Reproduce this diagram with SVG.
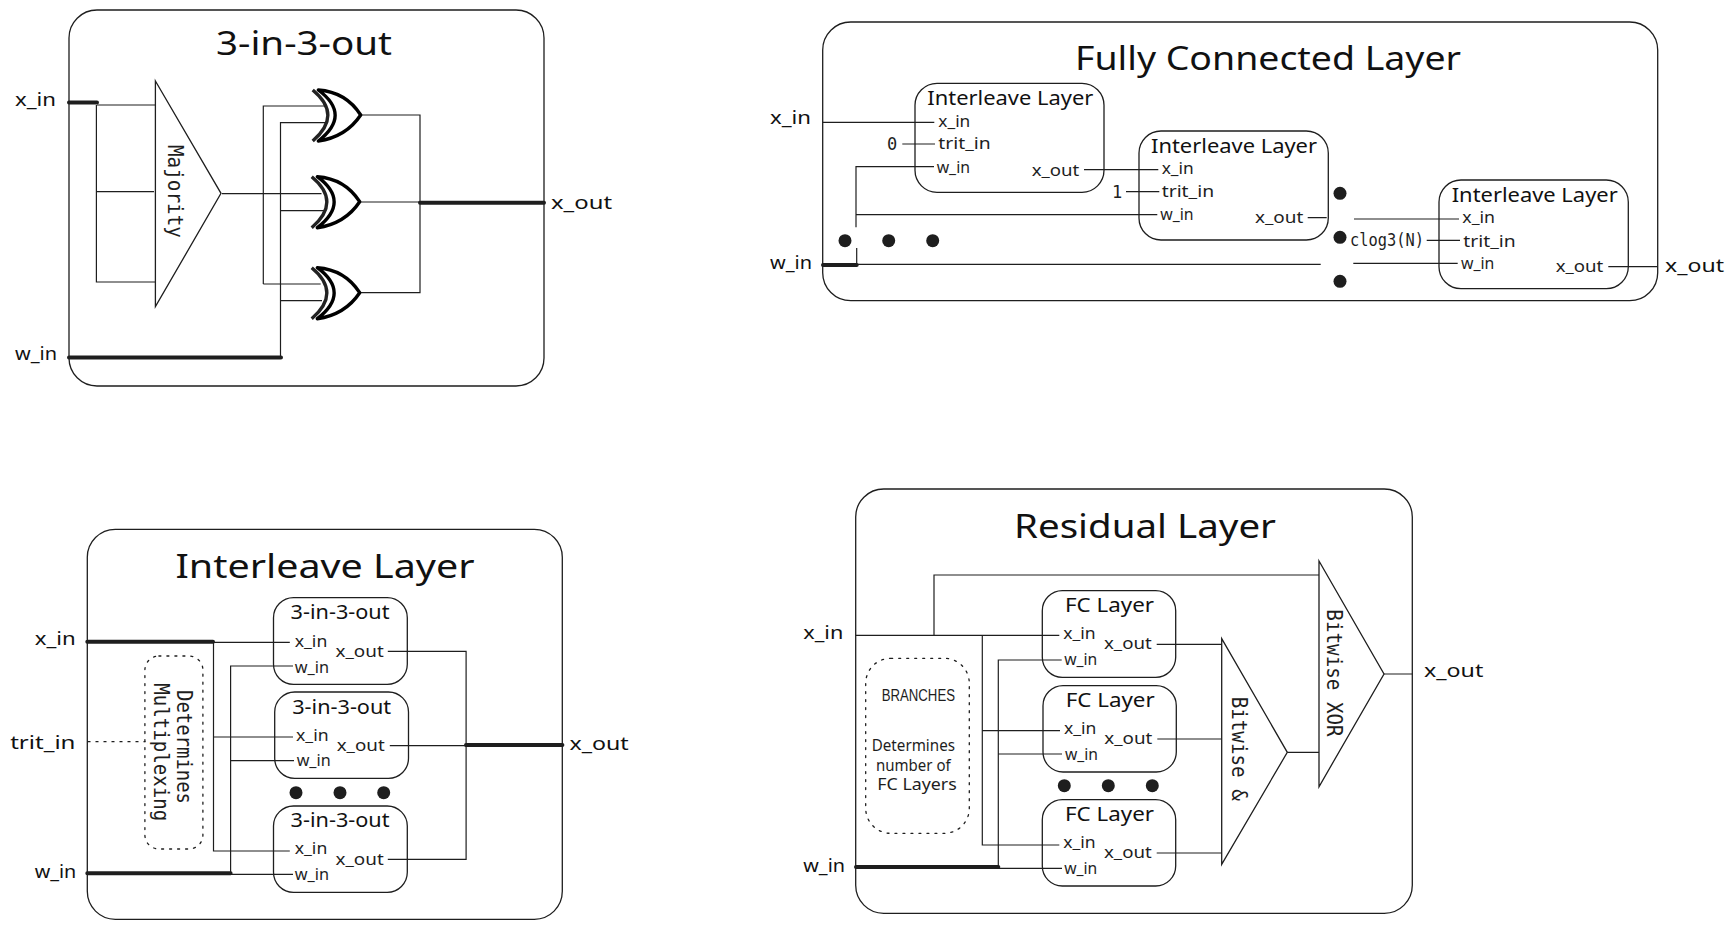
<svg xmlns="http://www.w3.org/2000/svg" width="1735" height="929" viewBox="0 0 1735 929">
<style>
.p{fill:none;stroke:#1e1e1e;stroke-width:1.3}
.n{fill:none;stroke:#1e1e1e;stroke-width:1.3}
.d{fill:none;stroke:#1e1e1e;stroke-width:1.3;stroke-dasharray:2 6;stroke-linecap:round}
.l{fill:none;stroke:#1e1e1e;stroke-width:1.2}
.t{fill:none;stroke:#1e1e1e;stroke-width:4;stroke-linecap:round}
.g{fill:none;stroke:#000;stroke-width:3.4;stroke-linejoin:round}
.b{fill:none;stroke:#222;stroke-width:3.4}
.dot{fill:#1e1e1e}
text{fill:#111;font-family:"Noto Sans","Liberation Sans",sans-serif;font-size:16px}
.big{font-size:33px}
.mid{font-size:19px}
.lab{font-size:18px}
.m{font-family:"DejaVu Sans Mono","Liberation Mono",monospace;font-size:21px;fill:#1e1e1e}
.m2{font-family:"DejaVu Sans Mono","Liberation Mono",monospace;font-size:17px;fill:#1e1e1e}
.s{font-size:16px;fill:#1e1e1e;transform:translate(0,1px)}
.note{font-size:16px;fill:#1e1e1e}
</style>
<defs>
<g id="xor">
<path class="b" d="M312.7,90Q343,115 312.7,141"/>
<path class="g" d="M318.3,90Q346,92 360.7,115Q346,137 318.3,141Q352,115 318.3,90Z"/>
</g>
</defs>

<g id="panel-3in3out">
<rect class="p" x="69" y="10" width="475" height="376" rx="28"/>
<text class="big" x="216" y="55" textLength="176" lengthAdjust="spacingAndGlyphs">3-in-3-out</text>
<text class="lab" x="15" y="106" textLength="41" lengthAdjust="spacingAndGlyphs">x_in</text>
<text class="lab" x="15" y="360" textLength="42" lengthAdjust="spacingAndGlyphs">w_in</text>
<text class="lab" x="551" y="209" textLength="61" lengthAdjust="spacingAndGlyphs">x_out</text>
</g>
<g id="connectors-3in3out">
<path class="t" d="M69,102.5H97M69,357.5H281M420,202.7H544"/>
<path class="l" d="M97,105H155.4M96.4,105V282H155.4M96.4,191.7H154M222,193.7H321.5M263.3,284V106H325M263.3,284H320.7M280.5,357V122.7H325M280.5,210.7H325M280.5,300.7H322M361,115H420V292.7H360M360,202H420"/>
</g>
<g id="majority">
<path class="n" d="M155.4,81L221,193.3L155.4,306.7Z"/>
<text class="m" transform="translate(167.5,145) rotate(90)" textLength="93" lengthAdjust="spacingAndGlyphs">Majority</text>
</g>
<g id="xor-1"><use href="#xor"/></g>
<g id="xor-2"><use href="#xor" x="-1" y="86.7"/></g>
<g id="xor-3"><use href="#xor" x="-1" y="177.7"/></g>

<g id="panel-fc">
<rect class="p" x="822.7" y="22" width="835" height="278.7" rx="28"/>
<text class="big" x="1075" y="70" textLength="386" lengthAdjust="spacingAndGlyphs">Fully Connected Layer</text>
<text class="lab" x="770" y="124" textLength="41" lengthAdjust="spacingAndGlyphs">x_in</text>
<text class="lab" x="770" y="269" textLength="42" lengthAdjust="spacingAndGlyphs">w_in</text>
<text class="lab" x="1665" y="271.7" textLength="59" lengthAdjust="spacingAndGlyphs">x_out</text>
<text class="m2" x="887" y="149.5">0</text>
<text class="m2" x="1112" y="197.5">1</text>
<text class="m2" x="1350" y="246" textLength="74" lengthAdjust="spacingAndGlyphs">clog3(N)</text>
<circle class="dot" cx="845" cy="240.7" r="6.5"/><circle class="dot" cx="888.7" cy="240.7" r="6.5"/><circle class="dot" cx="932.7" cy="240.7" r="6.5"/>
<circle class="dot" cx="1340" cy="193.3" r="6.5"/><circle class="dot" cx="1340" cy="237.3" r="6.5"/><circle class="dot" cx="1340" cy="281.3" r="6.5"/>
</g>
<g id="connectors-fc">
<path class="t" d="M823,265H856.7"/>
<path class="l" d="M822.7,122.3H934.3M902.3,144H935M934,166.7H856V227.3M856,214.7H1157.3M856.7,248V265M856,264.3H1320.7M1353.3,263.3H1457.7M1084,169.7H1158.3M1126,191.7H1159.3M1307.7,217.7H1326.7M1354,219H1459M1426.7,240.3H1460M1608.3,266.7H1657.7"/>
</g>
<g id="fc-interleave-1">
<rect class="n" x="915" y="83.3" width="189" height="109" rx="22"/>
<text class="mid" x="927.3" y="105" textLength="166" lengthAdjust="spacingAndGlyphs">Interleave Layer</text>
<text class="s" x="938.3" y="126" textLength="32" lengthAdjust="spacingAndGlyphs">x_in</text>
<text class="s" x="938.3" y="148" textLength="52.4" lengthAdjust="spacingAndGlyphs">trit_in</text>
<text class="s" x="936.7" y="171.7" textLength="33.3" lengthAdjust="spacingAndGlyphs">w_in</text>
<text class="s" x="1031.7" y="175" textLength="47.6" lengthAdjust="spacingAndGlyphs">x_out</text>
</g>
<g id="fc-interleave-2">
<rect class="n" x="1139" y="131" width="189.3" height="109" rx="22"/>
<text class="mid" x="1151" y="152.5" textLength="166" lengthAdjust="spacingAndGlyphs">Interleave Layer</text>
<text class="s" x="1161.7" y="173" textLength="32" lengthAdjust="spacingAndGlyphs">x_in</text>
<text class="s" x="1161.7" y="196" textLength="52.4" lengthAdjust="spacingAndGlyphs">trit_in</text>
<text class="s" x="1160.3" y="219" textLength="33.3" lengthAdjust="spacingAndGlyphs">w_in</text>
<text class="s" x="1255" y="221.7" textLength="48.3" lengthAdjust="spacingAndGlyphs">x_out</text>
</g>
<g id="fc-interleave-3">
<rect class="n" x="1439" y="180" width="189.3" height="108.7" rx="22"/>
<text class="mid" x="1451.7" y="201.7" textLength="166" lengthAdjust="spacingAndGlyphs">Interleave Layer</text>
<text class="s" x="1462.3" y="222.3" textLength="32.7" lengthAdjust="spacingAndGlyphs">x_in</text>
<text class="s" x="1463.3" y="245.7" textLength="52.4" lengthAdjust="spacingAndGlyphs">trit_in</text>
<text class="s" x="1461" y="268.3" textLength="33.3" lengthAdjust="spacingAndGlyphs">w_in</text>
<text class="s" x="1555.7" y="270.7" textLength="47.6" lengthAdjust="spacingAndGlyphs">x_out</text>
</g>

<g id="panel-interleave">
<rect class="p" x="87.3" y="529.3" width="475" height="390" rx="28"/>
<text class="big" x="175.5" y="578.3" textLength="299" lengthAdjust="spacingAndGlyphs">Interleave Layer</text>
<text class="lab" x="34.7" y="645" textLength="41" lengthAdjust="spacingAndGlyphs">x_in</text>
<text class="lab" x="10.2" y="749.3" textLength="65.3" lengthAdjust="spacingAndGlyphs">trit_in</text>
<text class="lab" x="34.7" y="877.7" textLength="41.6" lengthAdjust="spacingAndGlyphs">w_in</text>
<text class="lab" x="569.4" y="750" textLength="59.2" lengthAdjust="spacingAndGlyphs">x_out</text>
<circle class="dot" cx="296" cy="792.7" r="6.5"/><circle class="dot" cx="340" cy="792.7" r="6.5"/><circle class="dot" cx="383.7" cy="792.7" r="6.5"/>
</g>
<g id="multiplexing-note">
<rect class="d" x="144.9" y="656" width="58" height="193" rx="14"/>
<text class="m" transform="translate(176.5,690) rotate(90)" textLength="114" lengthAdjust="spacingAndGlyphs">Determines</text>
<text class="m" transform="translate(153.5,683.3) rotate(90)" textLength="138" lengthAdjust="spacingAndGlyphs">Multiplexing</text>
</g>
<g id="connectors-interleave">
<path class="t" d="M87.3,641.7H213M87.3,873.3H230.6M466,745H562.4"/>
<path class="l" d="M213,642.3H289.8M213.5,642V851H289.8M213.5,737H293M230,874.3H293M230.6,874V666H293M230.6,760.7H294M387.8,651.3H466.1V859.3H387.8M389.8,745.7H466"/>
<path class="d" d="M88,741.7H145"/>
</g>
<g id="il-3in3out-1">
<rect class="n" x="273.5" y="597.7" width="133.8" height="86.6" rx="20"/>
<text class="mid" x="290.6" y="619.3" textLength="99" lengthAdjust="spacingAndGlyphs">3-in-3-out</text>
<text class="s" x="294.7" y="645.7" textLength="32.6" lengthAdjust="spacingAndGlyphs">x_in</text>
<text class="s" x="294.7" y="671.7" textLength="34.3" lengthAdjust="spacingAndGlyphs">w_in</text>
<text class="s" x="335.5" y="656" textLength="48.2" lengthAdjust="spacingAndGlyphs">x_out</text>
</g>
<g id="il-3in3out-2">
<rect class="n" x="274.7" y="692" width="133.8" height="86.3" rx="20"/>
<text class="mid" x="292.2" y="713.7" textLength="99" lengthAdjust="spacingAndGlyphs">3-in-3-out</text>
<text class="s" x="296" y="740" textLength="32.6" lengthAdjust="spacingAndGlyphs">x_in</text>
<text class="s" x="296.7" y="765" textLength="34" lengthAdjust="spacingAndGlyphs">w_in</text>
<text class="s" x="336.7" y="750" textLength="48" lengthAdjust="spacingAndGlyphs">x_out</text>
</g>
<g id="il-3in3out-3">
<rect class="n" x="273.5" y="806" width="133.8" height="86.3" rx="20"/>
<text class="mid" x="290.6" y="827.3" textLength="99" lengthAdjust="spacingAndGlyphs">3-in-3-out</text>
<text class="s" x="294.7" y="853.3" textLength="32.6" lengthAdjust="spacingAndGlyphs">x_in</text>
<text class="s" x="294.7" y="879.3" textLength="34.3" lengthAdjust="spacingAndGlyphs">w_in</text>
<text class="s" x="335.5" y="864" textLength="48.2" lengthAdjust="spacingAndGlyphs">x_out</text>
</g>

<g id="panel-residual">
<rect class="p" x="855.7" y="489" width="556.6" height="424.3" rx="28"/>
<text class="big" x="1014" y="538.3" textLength="262" lengthAdjust="spacingAndGlyphs">Residual Layer</text>
<text class="lab" x="803.3" y="639" textLength="40" lengthAdjust="spacingAndGlyphs">x_in</text>
<text class="lab" x="803.3" y="871.7" textLength="41.7" lengthAdjust="spacingAndGlyphs">w_in</text>
<text class="lab" x="1424" y="677.3" textLength="59.3" lengthAdjust="spacingAndGlyphs">x_out</text>
<circle class="dot" cx="1064.3" cy="785.7" r="6.5"/><circle class="dot" cx="1108.3" cy="785.7" r="6.5"/><circle class="dot" cx="1152.3" cy="785.7" r="6.5"/>
</g>
<g id="branches-note">
<rect class="d" x="865.7" y="658.3" width="103.6" height="175" rx="25"/>
<text class="note" x="881.7" y="701" textLength="73.3" lengthAdjust="spacingAndGlyphs" style="font-family:'Liberation Sans',sans-serif">BRANCHES</text>
<text class="note" x="871.7" y="750.7" textLength="83.3" lengthAdjust="spacingAndGlyphs">Determines</text>
<text class="note" x="876" y="770.7" textLength="74.7" lengthAdjust="spacingAndGlyphs">number of</text>
<text class="note" x="877.3" y="790" textLength="79.4" lengthAdjust="spacingAndGlyphs">FC Layers</text>
</g>
<g id="connectors-residual">
<path class="t" d="M856,867H998.3"/>
<path class="l" d="M855.7,635.3H1059.3M934,635.3V575H1319M982.3,635.3V845H1059.3M982.3,730.7H1060M1061.7,660H998.3V868.3H1062M998.3,754H1062M1156.7,644.3H1221.7M1157.3,739H1221.7M1156.7,853H1221.7M1287.3,752.3H1319M1384,674H1412.3"/>
</g>
<g id="fc-layer-1">
<rect class="n" x="1042.3" y="590.7" width="133.4" height="86.6" rx="20"/>
<text class="mid" x="1065" y="612.3" textLength="89" lengthAdjust="spacingAndGlyphs">FC Layer</text>
<text class="s" x="1063.3" y="638.3" textLength="32.4" lengthAdjust="spacingAndGlyphs">x_in</text>
<text class="s" x="1064.3" y="664.3" textLength="33" lengthAdjust="spacingAndGlyphs">w_in</text>
<text class="s" x="1104" y="648.3" textLength="47.7" lengthAdjust="spacingAndGlyphs">x_out</text>
</g>
<g id="fc-layer-2">
<rect class="n" x="1043" y="685.7" width="133.3" height="86.3" rx="20"/>
<text class="mid" x="1065.7" y="707.3" textLength="89" lengthAdjust="spacingAndGlyphs">FC Layer</text>
<text class="s" x="1064" y="733.3" textLength="32.4" lengthAdjust="spacingAndGlyphs">x_in</text>
<text class="s" x="1065" y="759.3" textLength="33" lengthAdjust="spacingAndGlyphs">w_in</text>
<text class="s" x="1104.3" y="743.3" textLength="48" lengthAdjust="spacingAndGlyphs">x_out</text>
</g>
<g id="fc-layer-3">
<rect class="n" x="1042.3" y="799.7" width="133.4" height="86.3" rx="20"/>
<text class="mid" x="1065" y="821" textLength="89" lengthAdjust="spacingAndGlyphs">FC Layer</text>
<text class="s" x="1063.3" y="847.3" textLength="32.4" lengthAdjust="spacingAndGlyphs">x_in</text>
<text class="s" x="1064.3" y="873.3" textLength="33" lengthAdjust="spacingAndGlyphs">w_in</text>
<text class="s" x="1104" y="857.3" textLength="47.7" lengthAdjust="spacingAndGlyphs">x_out</text>
</g>
<g id="bitwise-and">
<path class="n" d="M1221.7,638.7L1287.3,752.3L1221.7,864.3Z"/>
<text class="m" transform="translate(1231.5,696.7) rotate(90)" textLength="104" lengthAdjust="spacingAndGlyphs">Bitwise &amp;</text>
</g>
<g id="bitwise-xor">
<path class="n" d="M1319,561L1384,674L1319,786.7Z"/>
<text class="m" transform="translate(1326.5,609.3) rotate(90)" textLength="127.4" lengthAdjust="spacingAndGlyphs">Bitwise XOR</text>
</g>
</svg>
